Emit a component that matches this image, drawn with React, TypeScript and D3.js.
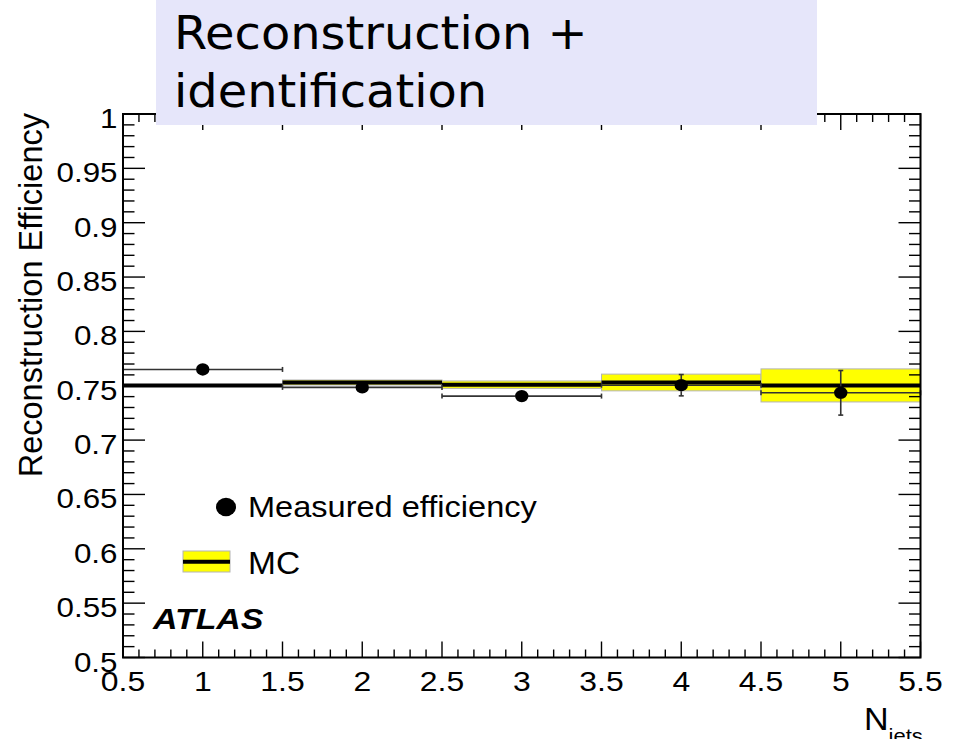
import React from "react";
import * as d3 from "d3";

// Jet multiplicity bins (centres) and their half-width
const binCentres = [1, 2, 3, 4, 5];
const binHalfWidth = 0.5;

// Measured efficiency per bin and its statistical uncertainty
const measured = [0.765, 0.7485, 0.7405, 0.7505, 0.7435];
const measuredErr = [0.004, 0.004, 0.004, 0.0098, 0.0205];

// Simulated (MC) efficiency per bin and its uncertainty band
const mcValues = [0.7502, 0.753, 0.751, 0.753, 0.7503];
const mcErr = [0.0005, 0.0023, 0.0034, 0.0077, 0.0152];

// Axis tick labels
const xTickValues = [0.5, 1, 1.5, 2, 2.5, 3, 3.5, 4, 4.5, 5, 5.5];
const yTickValues = [0.5, 0.55, 0.6, 0.65, 0.7, 0.75, 0.8, 0.85, 0.9, 0.95, 1];

const W = 953;
const H = 739;
const left = 123;
const right = 920.5;
const top = 114;
const bottom = 657.5;

const SANS = "'Liberation Sans', Arial, Helvetica, sans-serif";

const x = d3.scaleLinear().domain([0.5, 5.5]).range([left, right]);
const y = d3.scaleLinear().domain([0.5, 1]).range([bottom, top]);

function fmt(v: number) {
  return String(+v.toFixed(2));
}

type STextProps = {
  x: number;
  y: number;
  sx?: number;
  size: number;
  anchor?: "start" | "middle" | "end";
  weight?: string;
  italic?: boolean;
  family?: string;
  children: React.ReactNode;
};

// Text with a horizontal stretch about its anchor point
function SText({ x, y, sx = 1.12, size, anchor = "start", weight = "normal", italic = false, family = SANS, children }: STextProps) {
  return (
    <text
      transform={`translate(${x},${y}) scale(${sx},1)`}
      fontSize={size}
      fontFamily={family}
      fontWeight={weight}
      fontStyle={italic ? "italic" : "normal"}
      textAnchor={anchor}
      fill="#000"
    >
      {children}
    </text>
  );
}

export default function App() {
  const yMinor = d3.range(0, 51).map((i) => 0.5 + i * 0.01);
  const xMinor = d3.range(0, 51).map((i) => 0.5 + i * 0.1);
  const isMajorY = (v: number) => Math.abs(Math.round(v * 20) - v * 20) < 1e-6;
  const isMajorX = (v: number) => Math.abs(Math.round(v * 2) - v * 2) < 1e-6;

  const markerR = 6.2;
  const cap = 2.5;
  const errColor = "#333";

  return (
    <svg
      width={W}
      height={H}
      viewBox={`0 0 ${W} ${H}`}
      style={{ position: "absolute", left: 0, top: 0, background: "#fff", overflow: "hidden" }}
    >
      <rect x={0} y={0} width={W} height={H} fill="#fff" />

      {/* MC uncertainty bands */}
      {binCentres.map((c, i) => (
        <rect
          key={`band${i}`}
          x={x(c - binHalfWidth)}
          y={y(mcValues[i] + mcErr[i])}
          width={x(c + binHalfWidth) - x(c - binHalfWidth)}
          height={Math.max(y(mcValues[i] - mcErr[i]) - y(mcValues[i] + mcErr[i]), 0.5)}
          fill="#ffff00"
          stroke="#b4b4b4"
          strokeWidth={1}
        />
      ))}

      {/* MC central values */}
      {binCentres.map((c, i) => (
        <line
          key={`mc${i}`}
          x1={x(c - binHalfWidth)}
          x2={x(c + binHalfWidth)}
          y1={y(mcValues[i])}
          y2={y(mcValues[i])}
          stroke="#000"
          strokeWidth={4}
        />
      ))}

      {/* Measured points with error bars */}
      {binCentres.map((c, i) => {
        const cx = x(c);
        const cy = y(measured[i]);
        const x0 = x(c - binHalfWidth);
        const x1 = x(c + binHalfWidth);
        const yHi = y(measured[i] + measuredErr[i]);
        const yLo = y(measured[i] - measuredErr[i]);
        const showV = cy - yHi > markerR;
        return (
          <g key={`pt${i}`} stroke={errColor} strokeWidth={1.6}>
            <line x1={x0} x2={cx - markerR} y1={cy} y2={cy} />
            <line x1={cx + markerR} x2={x1} y1={cy} y2={cy} />
            <line x1={x0} x2={x0} y1={cy - cap} y2={cy + cap} />
            <line x1={x1} x2={x1} y1={cy - cap} y2={cy + cap} />
            {showV && (
              <>
                <line x1={cx} x2={cx} y1={yHi} y2={cy - markerR} />
                <line x1={cx} x2={cx} y1={cy + markerR} y2={yLo} />
                <line x1={cx - cap} x2={cx + cap} y1={yHi} y2={yHi} />
                <line x1={cx - cap} x2={cx + cap} y1={yLo} y2={yLo} />
              </>
            )}
            <ellipse cx={cx} cy={cy} rx={markerR + 0.5} ry={markerR} fill="#000" stroke="none" />
          </g>
        );
      })}

      {/* Ticks on all four sides */}
      <g stroke="#000" strokeWidth={1.4}>
        {yMinor.map((v, i) => {
          const len = isMajorY(v) ? 22 : 11.5;
          const yy = y(v);
          return (
            <g key={`yt${i}`}>
              <line x1={left} x2={left + len} y1={yy} y2={yy} />
              <line x1={right} x2={right - len} y1={yy} y2={yy} />
            </g>
          );
        })}
        {xMinor.map((v, i) => {
          const len = isMajorX(v) ? 16 : 8;
          const xx = x(v);
          return (
            <g key={`xt${i}`}>
              <line x1={xx} x2={xx} y1={bottom} y2={bottom - len} />
              <line x1={xx} x2={xx} y1={top} y2={top + len} />
            </g>
          );
        })}
      </g>

      {/* Frame */}
      <rect x={left} y={top} width={right - left} height={bottom - top} fill="none" stroke="#000" strokeWidth={2} />

      {/* Tick labels */}
      {yTickValues.map((v) => (
        <SText key={`yl${v}`} x={117.5} y={y(v) + 14} size={28} sx={1.12} anchor="end">
          {fmt(v)}
        </SText>
      ))}
      {xTickValues.map((v) => (
        <SText key={`xl${v}`} x={x(v)} y={691} size={28} sx={1.14} anchor="middle">
          {fmt(v)}
        </SText>
      ))}

      {/* Axis titles */}
      <text
        transform="translate(42,113) rotate(-90)"
        fontSize={32.5}
        fontFamily={SANS}
        textAnchor="end"
        fill="#000"
      >
        Reconstruction Efficiency
      </text>
      <text transform="translate(864,729.5) scale(1.1,1)" fontFamily={SANS} textAnchor="start" fill="#000">
        <tspan fontSize={31}>N</tspan>
        <tspan fontSize={20} dy={13}>jets</tspan>
      </text>

      {/* Legend */}
      <ellipse cx={226} cy={507} rx={10} ry={9.3} fill="#000" />
      <SText x={248} y={517} size={30} sx={1.085}>
        Measured efficiency
      </SText>
      <rect x={183} y={551} width={47} height={21} fill="#ffff00" stroke="#b4b4b4" strokeWidth={1} />
      <line x1={183} x2={230} y1={561.7} y2={561.7} stroke="#000" strokeWidth={4} />
      <SText x={248} y={574.3} size={31} sx={1.08}>
        MC
      </SText>

      <SText x={153} y={629.3} size={30} sx={1.13} weight="bold" italic>
        ATLAS
      </SText>

      {/* Title panel */}
      <rect x={156} y={0} width={661} height={125} fill="#e6e6fa" />
      <SText x={174} y={49} size={46.5} sx={1.03} family="'DejaVu Sans', sans-serif">
        Reconstruction +
      </SText>
      <SText x={174} y={107} size={46.5} sx={1.03} family="'DejaVu Sans', sans-serif">
        identification
      </SText>
    </svg>
  );
}
